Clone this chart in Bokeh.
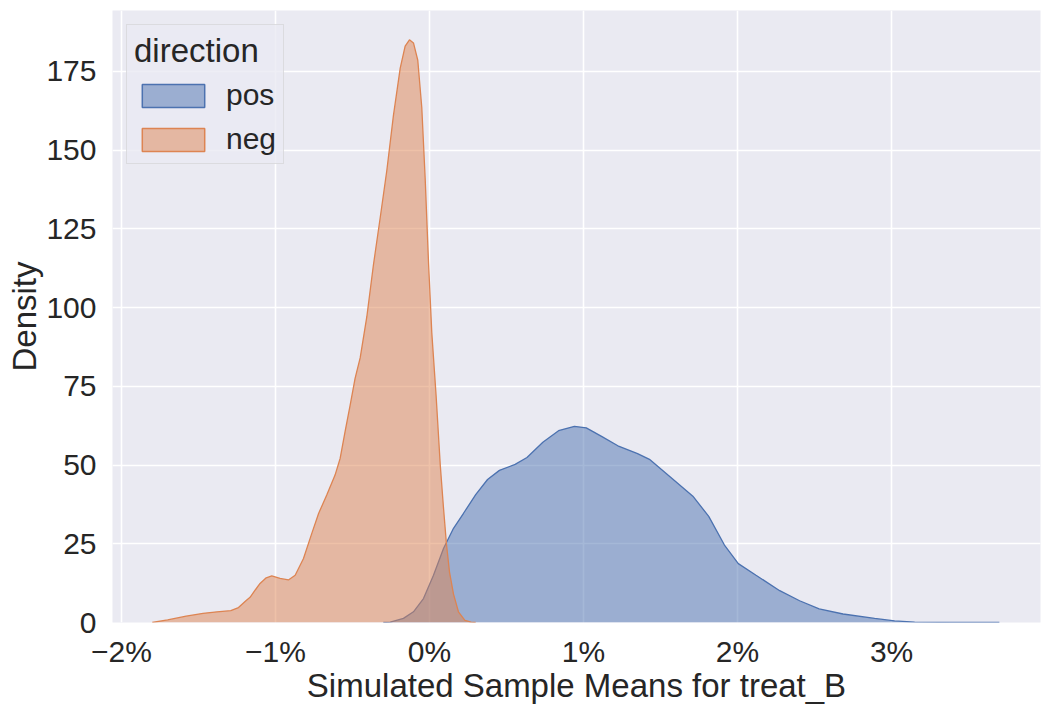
import numpy as np
from bokeh.plotting import figure
from bokeh.models import (FixedTicker, CustomJSTickFormatter, Legend, LegendItem,
                          ColumnDataSource, Range1d)
from bokeh.embed import file_html
from bokeh.resources import INLINE

# ---- data (x in percent, y = density) ----
series_names = ["pos", "neg"]

pos_x_pct = [-0.30, -0.255, -0.169, -0.104, -0.039, 0.026, 0.091, 0.156, 0.22, 0.30,
             0.377, 0.454, 0.556, 0.633, 0.736, 0.838, 0.941, 1.018, 1.12, 1.223,
             1.351, 1.428, 1.556, 1.71, 1.813, 1.915, 2.005, 2.12, 2.274, 2.403,
             2.53, 2.685, 2.89, 3.02, 3.15, 3.4, 3.7]
pos_density = [0.0, 0.1, 1.3, 3.4, 7.6, 15.0, 23.5, 29.9, 34.6, 40.6,
               45.4, 48.3, 50.2, 52.4, 57.2, 60.9, 62.3, 61.8, 59.0, 56.1,
               53.6, 51.8, 46.5, 40.1, 33.7, 24.6, 18.7, 15.0, 10.1, 6.9,
               4.3, 2.7, 1.3, 0.5, 0.1, 0.02, 0.0]

neg_x_pct = [-1.80, -1.70, -1.58, -1.47, -1.38, -1.29, -1.24, -1.19, -1.165, -1.13,
             -1.10, -1.06, -1.024, -0.97, -0.916, -0.872, -0.818, -0.764, -0.72, -0.667,
             -0.613, -0.58, -0.548, -0.515, -0.483, -0.45, -0.407, -0.364, -0.32, -0.277,
             -0.234, -0.19, -0.158, -0.13, -0.104, -0.076, -0.05, -0.028, -0.006, 0.015,
             0.043, 0.07, 0.09, 0.11, 0.13, 0.156, 0.188, 0.23, 0.27, 0.30]
neg_density = [0.0, 0.8, 2.0, 2.9, 3.4, 3.75, 4.75, 7.0, 8.0, 10.4,
               12.4, 14.2, 14.8, 14.0, 13.5, 15.0, 20.3, 28.3, 34.6, 40.5,
               46.8, 52.1, 60.6, 69.0, 77.5, 84.0, 97.0, 113.5, 128.5, 143.5,
               161.0, 176.0, 183.0, 185.0, 184.0, 178.5, 163.5, 141.0, 114.0, 92.0,
               72.0, 50.0, 37.0, 25.0, 16.0, 9.0, 3.4, 0.7, 0.1, 0.0]

x_ticks = [-0.02, -0.01, 0.0, 0.01, 0.02, 0.03]
y_ticks = [0, 25, 50, 75, 100, 125, 150, 175]
x_label = "Simulated Sample Means for treat_B"
y_label = "Density"
legend_title = "direction"

colors = {"pos": "#4C72B0", "neg": "#DD8452"}
TXT = "#262626"
FONT = "Liberation Sans"

X0, X1 = -0.02058, 0.03967
Y0, Y1 = 0.0, 194.3

p = figure(width=1042, height=706, output_backend="svg", toolbar_location=None,
           x_range=Range1d(X0, X1), y_range=Range1d(Y0, Y1),
           min_border_left=112, min_border_right=2, min_border_top=10,
           min_border_bottom=82)
p.background_fill_color = "#EAEAF2"
p.border_fill_color = "white"
p.outline_line_color = None

sources = {
    "pos": ColumnDataSource(dict(x=np.array(pos_x_pct) / 100.0, y=pos_density)),
    "neg": ColumnDataSource(dict(x=np.array(neg_x_pct) / 100.0, y=neg_density)),
}

legend_items = []
for name in series_names:
    src = sources[name]
    c = colors[name]
    p.varea(x="x", y1=0, y2="y", source=src, fill_color=c, fill_alpha=0.5)
    p.line(x="x", y="y", source=src, line_color=c, line_width=1.3)
    # legend swatch only (no visible geometry)
    dummy = p.patch(x=[float("nan")], y=[float("nan")], fill_color=c, fill_alpha=0.5,
                    line_color=c, line_width=1.5)
    legend_items.append(LegendItem(label=name, renderers=[dummy]))

# axes
p.xaxis.ticker = FixedTicker(ticks=x_ticks)
p.yaxis.ticker = FixedTicker(ticks=y_ticks)
p.xaxis.formatter = CustomJSTickFormatter(code="""
const v = Math.round(tick*100);
return (v < 0 ? '\\u2212' + (-v) : '' + v) + '%';
""")
for ax in (p.xaxis[0], p.yaxis[0]):
    ax.axis_line_color = None
    ax.major_tick_line_color = None
    ax.minor_tick_line_color = None
    ax.major_tick_out = 0
    ax.major_tick_in = 0
    ax.minor_tick_out = 0
    ax.major_label_text_font = FONT
    ax.major_label_text_font_size = "30px"
    ax.major_label_text_color = TXT
    ax.axis_label_text_font = FONT
    ax.axis_label_text_font_size = "33px"
    ax.axis_label_text_color = TXT
    ax.axis_label_text_font_style = "normal"
    ax.axis_label_standoff = 0
p.xaxis.axis_label = x_label
p.yaxis.axis_label = y_label
p.xaxis.major_label_standoff = 12
p.xaxis.axis_label_standoff = -4
p.yaxis.major_label_standoff = 16

p.grid.grid_line_color = "white"
p.grid.grid_line_width = 1.6
p.xgrid.ticker = FixedTicker(ticks=x_ticks)
p.ygrid.ticker = FixedTicker(ticks=y_ticks)

legend = Legend(items=legend_items, location="top_left", title=legend_title)
legend.margin = 14
legend.padding = 7
legend.title_text_font = FONT
legend.title_text_font_size = "33px"
legend.title_text_font_style = "normal"
legend.title_text_color = TXT
legend.title_standoff = 8
legend.label_text_font = FONT
legend.label_text_font_size = "30px"
legend.label_text_color = TXT
legend.glyph_width = 78
legend.glyph_height = 29
legend.label_standoff = 14
legend.spacing = 10
legend.background_fill_color = "#EAEAF2"
legend.background_fill_alpha = 0.8
legend.border_line_color = "#CCCCCC"
legend.border_line_width = 1
p.add_layout(legend)

open("out.html", "w").write(file_html(p, INLINE))
